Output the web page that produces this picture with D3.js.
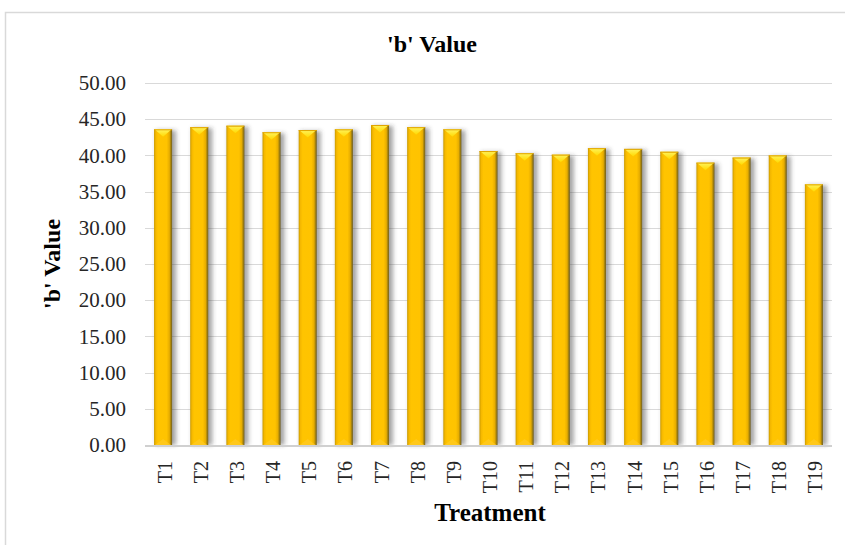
<!DOCTYPE html>
<html>
<head>
<meta charset="utf-8">
<script src="https://cdn.jsdelivr.net/npm/d3@7"></script>
<style>
  html, body { margin: 0; padding: 0; background: #ffffff; }
  svg { display: block; }
  text { font-family: "Liberation Serif", "Times New Roman", serif; }
</style>
</head>
<body>
<svg id="chart" width="845" height="545"></svg>
<script>
// Treatments and their measured 'b' colour values
const treatments = ["T1","T2","T3","T4","T5","T6","T7","T8","T9","T10",
                    "T11","T12","T13","T14","T15","T16","T17","T18","T19"];
const bValues = [43.6, 43.9, 44.1, 43.2, 43.5, 43.6, 44.2, 43.9, 43.6, 40.6,
                 40.3, 40.1, 41.0, 40.9, 40.5, 39.0, 39.7, 40.0, 36.0];
const yTicks = [0, 5, 10, 15, 20, 25, 30, 35, 40, 45, 50];

const svg = d3.select("#chart");
const plot = { left: 145, right: 832, top: 83, bottom: 445 };

// Outer chart frame
svg.append("path")
  .attr("d", "M5.5,545 L5.5,12.5 L845,12.5")
  .attr("fill", "none")
  .attr("stroke", "#d9d9d9")
  .attr("stroke-width", 1.5);

const x = d3.scaleBand()
  .domain(treatments)
  .range([plot.left, plot.right])
  .paddingInner(0.5)
  .paddingOuter(0.25);

const y = d3.scaleLinear()
  .domain([0, 50])
  .range([plot.bottom, plot.top]);

// Gradients and shadow for the bevelled columns
const defs = svg.append("defs");
const body = defs.append("linearGradient").attr("id", "barBody")
  .attr("x1", "0").attr("x2", "1").attr("y1", "0").attr("y2", "0");
[["0%", "#c99a00"], ["10%", "#f5b800"], ["22%", "#ffc400"], ["70%", "#ffc300"],
 ["85%", "#e7ad00"], ["92%", "#a8850d"], ["100%", "#6e5d22"]]
  .forEach(([o, c]) => body.append("stop").attr("offset", o).attr("stop-color", c));

const cap = defs.append("linearGradient").attr("id", "barCap")
  .attr("x1", "0").attr("x2", "0").attr("y1", "0").attr("y2", "1");
[["0%", "#fff45e"], ["100%", "#ffd800"]]
  .forEach(([o, c]) => cap.append("stop").attr("offset", o).attr("stop-color", c));

const shadow = defs.append("filter").attr("id", "barShadow")
  .attr("x", "-50%").attr("y", "-10%").attr("width", "200%").attr("height", "120%");
shadow.append("feGaussianBlur").attr("stdDeviation", 2.2);

// Horizontal gridlines
svg.append("g")
  .selectAll("line")
  .data(yTicks.filter(d => d > 0))
  .join("line")
  .attr("x1", plot.left).attr("x2", plot.right)
  .attr("y1", d => Math.round(y(d)) + 0.5).attr("y2", d => Math.round(y(d)) + 0.5)
  .attr("stroke", "#d9d9d9")
  .attr("stroke-width", 1);

// Y axis labels
const yAxis = svg.append("g")
  .attr("transform", `translate(${plot.left},0)`)
  .call(d3.axisLeft(y).tickValues(yTicks).tickFormat(d3.format(".2f")).tickSize(0).tickPadding(19));
yAxis.select(".domain").remove();
yAxis.selectAll("text")
  .attr("font-family", "Liberation Serif, Times New Roman, serif")
  .attr("font-size", 21)
  .attr("fill", "#262626");

// Columns
const bars = svg.append("g")
  .selectAll("g")
  .data(treatments.map((t, i) => ({ t, v: bValues[i] })))
  .join("g")
  .attr("transform", d => `translate(${x(d.t)},${y(d.v)})`);

const w = x.bandwidth();
bars.append("rect")
  .attr("x", 2).attr("y", 1)
  .attr("width", w + 2)
  .attr("height", d => y(0) - y(d.v) - 1)
  .attr("fill", "rgba(60,60,60,0.45)")
  .attr("filter", "url(#barShadow)");

bars.append("rect")
  .attr("x", 0).attr("y", 0)
  .attr("width", w)
  .attr("height", d => y(0) - y(d.v))
  .attr("fill", "url(#barBody)");

// Bevel facet at the top of each column
bars.append("path")
  .attr("d", `M0.5,0 L${w - 0.5},0 L${w / 2},7.5 Z`)
  .attr("fill", "url(#barCap)");
bars.append("line")
  .attr("x1", 0).attr("x2", w).attr("y1", 0.5).attr("y2", 0.5)
  .attr("stroke", "#e0a400").attr("stroke-width", 1);

// Softer facet at the foot of each column
bars.append("path")
  .attr("d", d => {
    const h = y(0) - y(d.v);
    return `M1,${h} L${w - 1},${h} L${w / 2},${h - 6} Z`;
  })
  .attr("fill", "#ffcb25")
  .attr("opacity", 0.7);

// Category baseline
svg.append("line")
  .attr("x1", plot.left).attr("x2", plot.right)
  .attr("y1", plot.bottom + 1).attr("y2", plot.bottom + 1)
  .attr("stroke", "#d0d0d0")
  .attr("stroke-width", 2);

// X axis labels, rotated
const xAxis = svg.append("g")
  .attr("transform", `translate(0,${plot.bottom})`)
  .call(d3.axisBottom(x).tickSize(0).tickPadding(0));
xAxis.select(".domain").remove();
xAxis.selectAll("text")
  .attr("font-family", "Liberation Serif, Times New Roman, serif")
  .attr("font-size", 20)
  .attr("fill", "#262626")
  .attr("text-anchor", "end")
  .attr("dy", "0.35em")
  .attr("transform", "translate(1.5,16) rotate(-90)")
  .attr("x", 0).attr("y", 0);

// Titles
svg.append("text")
  .attr("x", 432).attr("y", 52)
  .attr("text-anchor", "middle")
  .attr("font-weight", "bold")
  .attr("font-size", 24)
  .attr("fill", "#000")
  .text("'b' Value");

svg.append("text")
  .attr("transform", `translate(60,${(plot.top + plot.bottom) / 2}) rotate(-90)`)
  .attr("text-anchor", "middle")
  .attr("font-weight", "bold")
  .attr("font-size", 24)
  .attr("fill", "#000")
  .text("'b' Value");

svg.append("text")
  .attr("x", 490).attr("y", 521)
  .attr("text-anchor", "middle")
  .attr("font-weight", "bold")
  .attr("font-size", 25)
  .attr("fill", "#000")
  .text("Treatment");
</script>
</body>
</html>
